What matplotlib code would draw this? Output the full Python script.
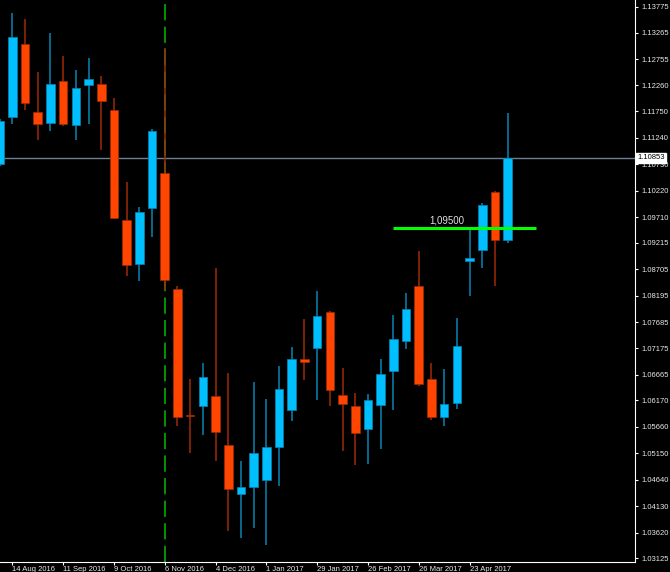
import matplotlib
matplotlib.use("Agg")
import matplotlib.pyplot as plt
import numpy as np

plt.rcParams["font.family"] = ["Liberation Sans", "DejaVu Sans"]

# weekly EURUSD candles, week index 0 = 7 Aug 2016
opens = [1.10736, 1.11643, 1.13052, 1.11739, 1.11527, 1.12338, 1.11488, 1.12261, 1.12280, 1.11778,
         1.09654, 1.08805, 1.09886, 1.10562, 1.08322, 1.05890, 1.06064, 1.06257, 1.05311, 1.04365,
         1.04500, 1.04635, 1.05272, 1.05986, 1.06971, 1.07183, 1.07878, 1.06276, 1.06064, 1.05620,
         1.06083, 1.06739, 1.07318, 1.08380, 1.06585, 1.05851, 1.06122, 1.08863, 1.09075, 1.10195,
         1.09268]
highs = [1.11600, 1.13651, 1.13535, 1.12512, 1.13264, 1.12820, 1.12550, 1.12782, 1.12434, 1.12010,
         1.10388, 1.09905, 1.11411, 1.12975, 1.08380, 1.06585, 1.06894, 1.08728, 1.06701, 1.05002,
         1.06527, 1.06199, 1.06836, 1.07203, 1.07743, 1.08284, 1.07900, 1.06797, 1.06315, 1.06295,
         1.06971, 1.07820, 1.08245, 1.09056, 1.06894, 1.06778, 1.07763, 1.09481, 1.09983, 1.10214,
         1.11718]
lows = [1.10700, 1.11508, 1.11778, 1.11199, 1.11373, 1.11469, 1.11199, 1.11508, 1.11006, 1.09674,
        1.08573, 1.08477, 1.09326, 1.08303, 1.05678, 1.05156, 1.05504, 1.05002, 1.03650, 1.03515,
        1.03709, 1.03380, 1.04519, 1.05774, 1.06566, 1.06180, 1.06064, 1.05195, 1.04925, 1.04944,
        1.05234, 1.05986, 1.07164, 1.06450, 1.05793, 1.05678, 1.06006, 1.08187, 1.08728, 1.08380,
        1.09210]
closes = [1.11566, 1.13187, 1.11913, 1.11508, 1.12280, 1.11508, 1.12203, 1.12376, 1.11952, 1.09693,
          1.08786, 1.09809, 1.11373, 1.08496, 1.05851, 1.05871, 1.06624, 1.05562, 1.04461, 1.04500,
          1.05156, 1.05272, 1.06392, 1.06971, 1.06913, 1.07801, 1.06373, 1.06102, 1.05542, 1.06180,
          1.06681, 1.07357, 1.07936, 1.06488, 1.05851, 1.06102, 1.07222, 1.08921, 1.09944, 1.09268,
          1.10853]

date_idx = [1, 5, 9, 13, 17, 21, 25, 29, 33, 37]
date_labels = ["14 Aug 2016", "11 Sep 2016", "9 Oct 2016", "6 Nov 2016", "4 Dec 2016",
               "1 Jan 2017", "29 Jan 2017", "26 Feb 2017", "26 Mar 2017", "23 Apr 2017"]
price_ticks = [1.13775, 1.13265, 1.12755, 1.12260, 1.11750, 1.11240, 1.10730, 1.10220, 1.09710,
               1.09215, 1.08705, 1.08195, 1.07685, 1.07175, 1.06665, 1.06170, 1.05660, 1.05150,
               1.04640, 1.04130, 1.03620, 1.03125]
last_price = 1.10853
level = 1.09500
event_week = 13

up_body, up_wick = "#00bfff", "#0a84b3"
dn_body, dn_wick = "#ff4500", "#a02a08"

fig = plt.figure(figsize=(6.7, 5.72), dpi=100, facecolor="black")
ax = fig.add_axes([0, 10 / 572, 635 / 670, 562 / 572], facecolor="black")

x = np.arange(len(opens))
for i in x:
    o, h, l, c = opens[i], highs[i], lows[i], closes[i]
    bull = c >= o
    ax.vlines(i, l, h, color=up_wick if bull else dn_wick, lw=1.1, zorder=2)
    lo, hi = min(o, c), max(o, c)
    ax.bar(i, max(hi - lo, 0.00012), bottom=lo, width=0.68,
           color=up_body if bull else dn_body,
           edgecolor=up_wick if bull else dn_wick, lw=0.5, zorder=3)

ax.axvline(event_week, color="#00a000", lw=1.3, ls=(0, (9, 3.5)), zorder=1)
ax.axhline(last_price, color="#6e7f8f", lw=1, zorder=1)
ax.hlines(level, 31.0, 42.2, color="#00ff00", lw=2.2, zorder=4)
ax.text(35.2, level + 0.0005, "1,09500", color="#e0e0e0", fontsize=7,
        ha="center", va="bottom")

ax.set_xlim(0.03, 50.03)
ax.set_ylim(1.03052, 1.13902)

ax.yaxis.tick_right()
ax.set_yticks(price_ticks)
ax.set_yticklabels([f"{p:.5f}" for p in price_ticks])
ax.set_xticks(date_idx)
ax.set_xticklabels(date_labels, ha="left")
ax.tick_params(colors="white", labelsize=5.5, length=2.5, width=0.8, pad=0.5)
ax.tick_params(axis="y", pad=2)
for lab in ax.get_xticklabels() + ax.get_yticklabels():
    lab.set_color("#e8e8e8")

for side in ["top", "left"]:
    ax.spines[side].set_visible(False)
for side in ["bottom", "right"]:
    ax.spines[side].set_color("white")
    ax.spines[side].set_linewidth(0.8)

ax.text(1.0035, last_price, "1.10853", transform=ax.get_yaxis_transform(),
        fontsize=5.5, color="black", va="center", ha="left",
        bbox=dict(boxstyle="square,pad=0.15", fc="white", ec="white"), zorder=10)

fig.savefig("out.png", dpi=100, facecolor="black")
